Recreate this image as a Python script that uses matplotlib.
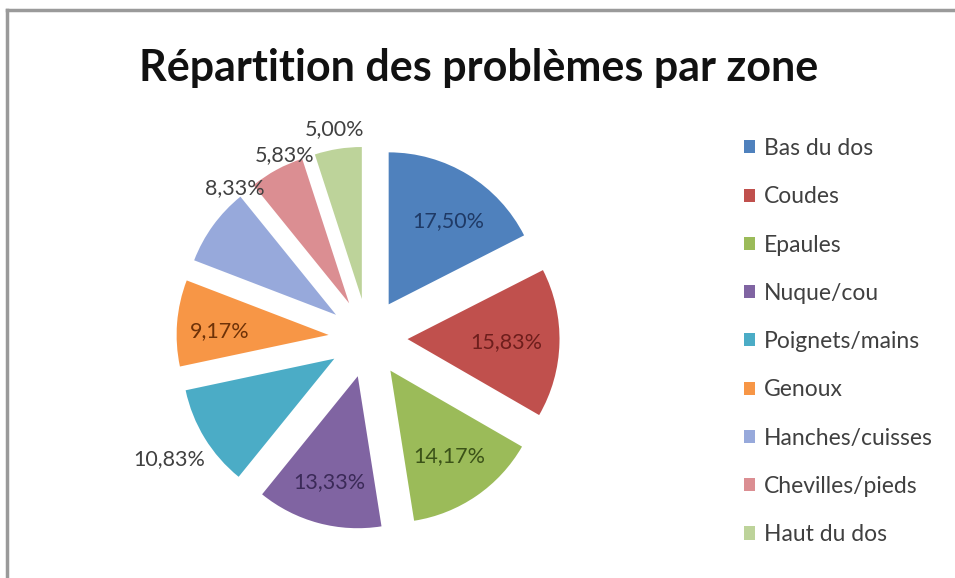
import matplotlib.pyplot as plt
import numpy as np

zones = ["Bas du dos", "Coudes", "Epaules", "Nuque/cou", "Poignets/mains",
         "Genoux", "Hanches/cuisses", "Chevilles/pieds", "Haut du dos"]
percents = [17.50, 15.83, 14.17, 13.33, 10.83, 9.17, 8.33, 5.83, 5.00]

colors = ["#4F81BD", "#C0504D", "#9BBB59", "#8064A2", "#4BACC6",
          "#F79646", "#97A9DB", "#DB8E92", "#BDD39A"]
text_colors = ["#1F3A66", "#6E1E1C", "#3B5218", "#3B2A58", "#404040",
               "#6E3208", "#404040", "#404040", "#404040"]
# label placement: distance (in radii, past the explode offset) and angle nudge
label_dist = [0.67, 0.65, 0.68, 0.72, 1.27, 0.72, 1.06, 1.06, 1.13]
label_nudge = [-3, 0, 0, 0, 0, 2, -12.5, -4, 0]

plt.rcParams['font.family'] = ['Lato', 'DejaVu Sans']

fig = plt.figure(figsize=(9.55, 5.78), dpi=100)

# chart frame (top and left edges visible)
fig.add_artist(plt.Line2D([7 / 955, 1], [1 - 10 / 578, 1 - 10 / 578], color="#9a9a9a", lw=2.5))
fig.add_artist(plt.Line2D([7 / 955, 7 / 955], [0, 1 - 10 / 578], color="#9a9a9a", lw=2.5))

ax = fig.add_axes([0.1625, 0.047, 0.4457, 0.7363])
explode_r = 0.26
wedges, _ = ax.pie(percents, colors=colors, startangle=90, counterclock=False,
                   explode=[explode_r] * len(percents), radius=1.0,
                   wedgeprops=dict(linewidth=0))
ax.set_xlim(-1.4, 1.4)
ax.set_ylim(-1.4, 1.4)
ax.set_aspect("equal")

for w, p, tc, d, nd in zip(wedges, percents, text_colors, label_dist, label_nudge):
    mid = np.deg2rad((w.theta1 + w.theta2) / 2 + nd)
    r = explode_r + d
    ax.text(r * np.cos(mid), r * np.sin(mid), f"{p:.2f}%".replace(".", ","),
            ha="center", va="center", fontsize=15.5, color=tc)

fig.text(0.501, 0.882, "Répartition des problèmes par zone", ha="center", va="center",
         fontsize=31, fontweight="bold", color="#111111")

fig.legend(wedges, zones, loc="upper left", bbox_to_anchor=(0.757, 0.797),
           frameon=False, fontsize=16.5, handlelength=0.5, handleheight=0.5,
           handletextpad=0.4, labelspacing=1.19, labelcolor="#404040")

fig.savefig("out.png", dpi=100)
